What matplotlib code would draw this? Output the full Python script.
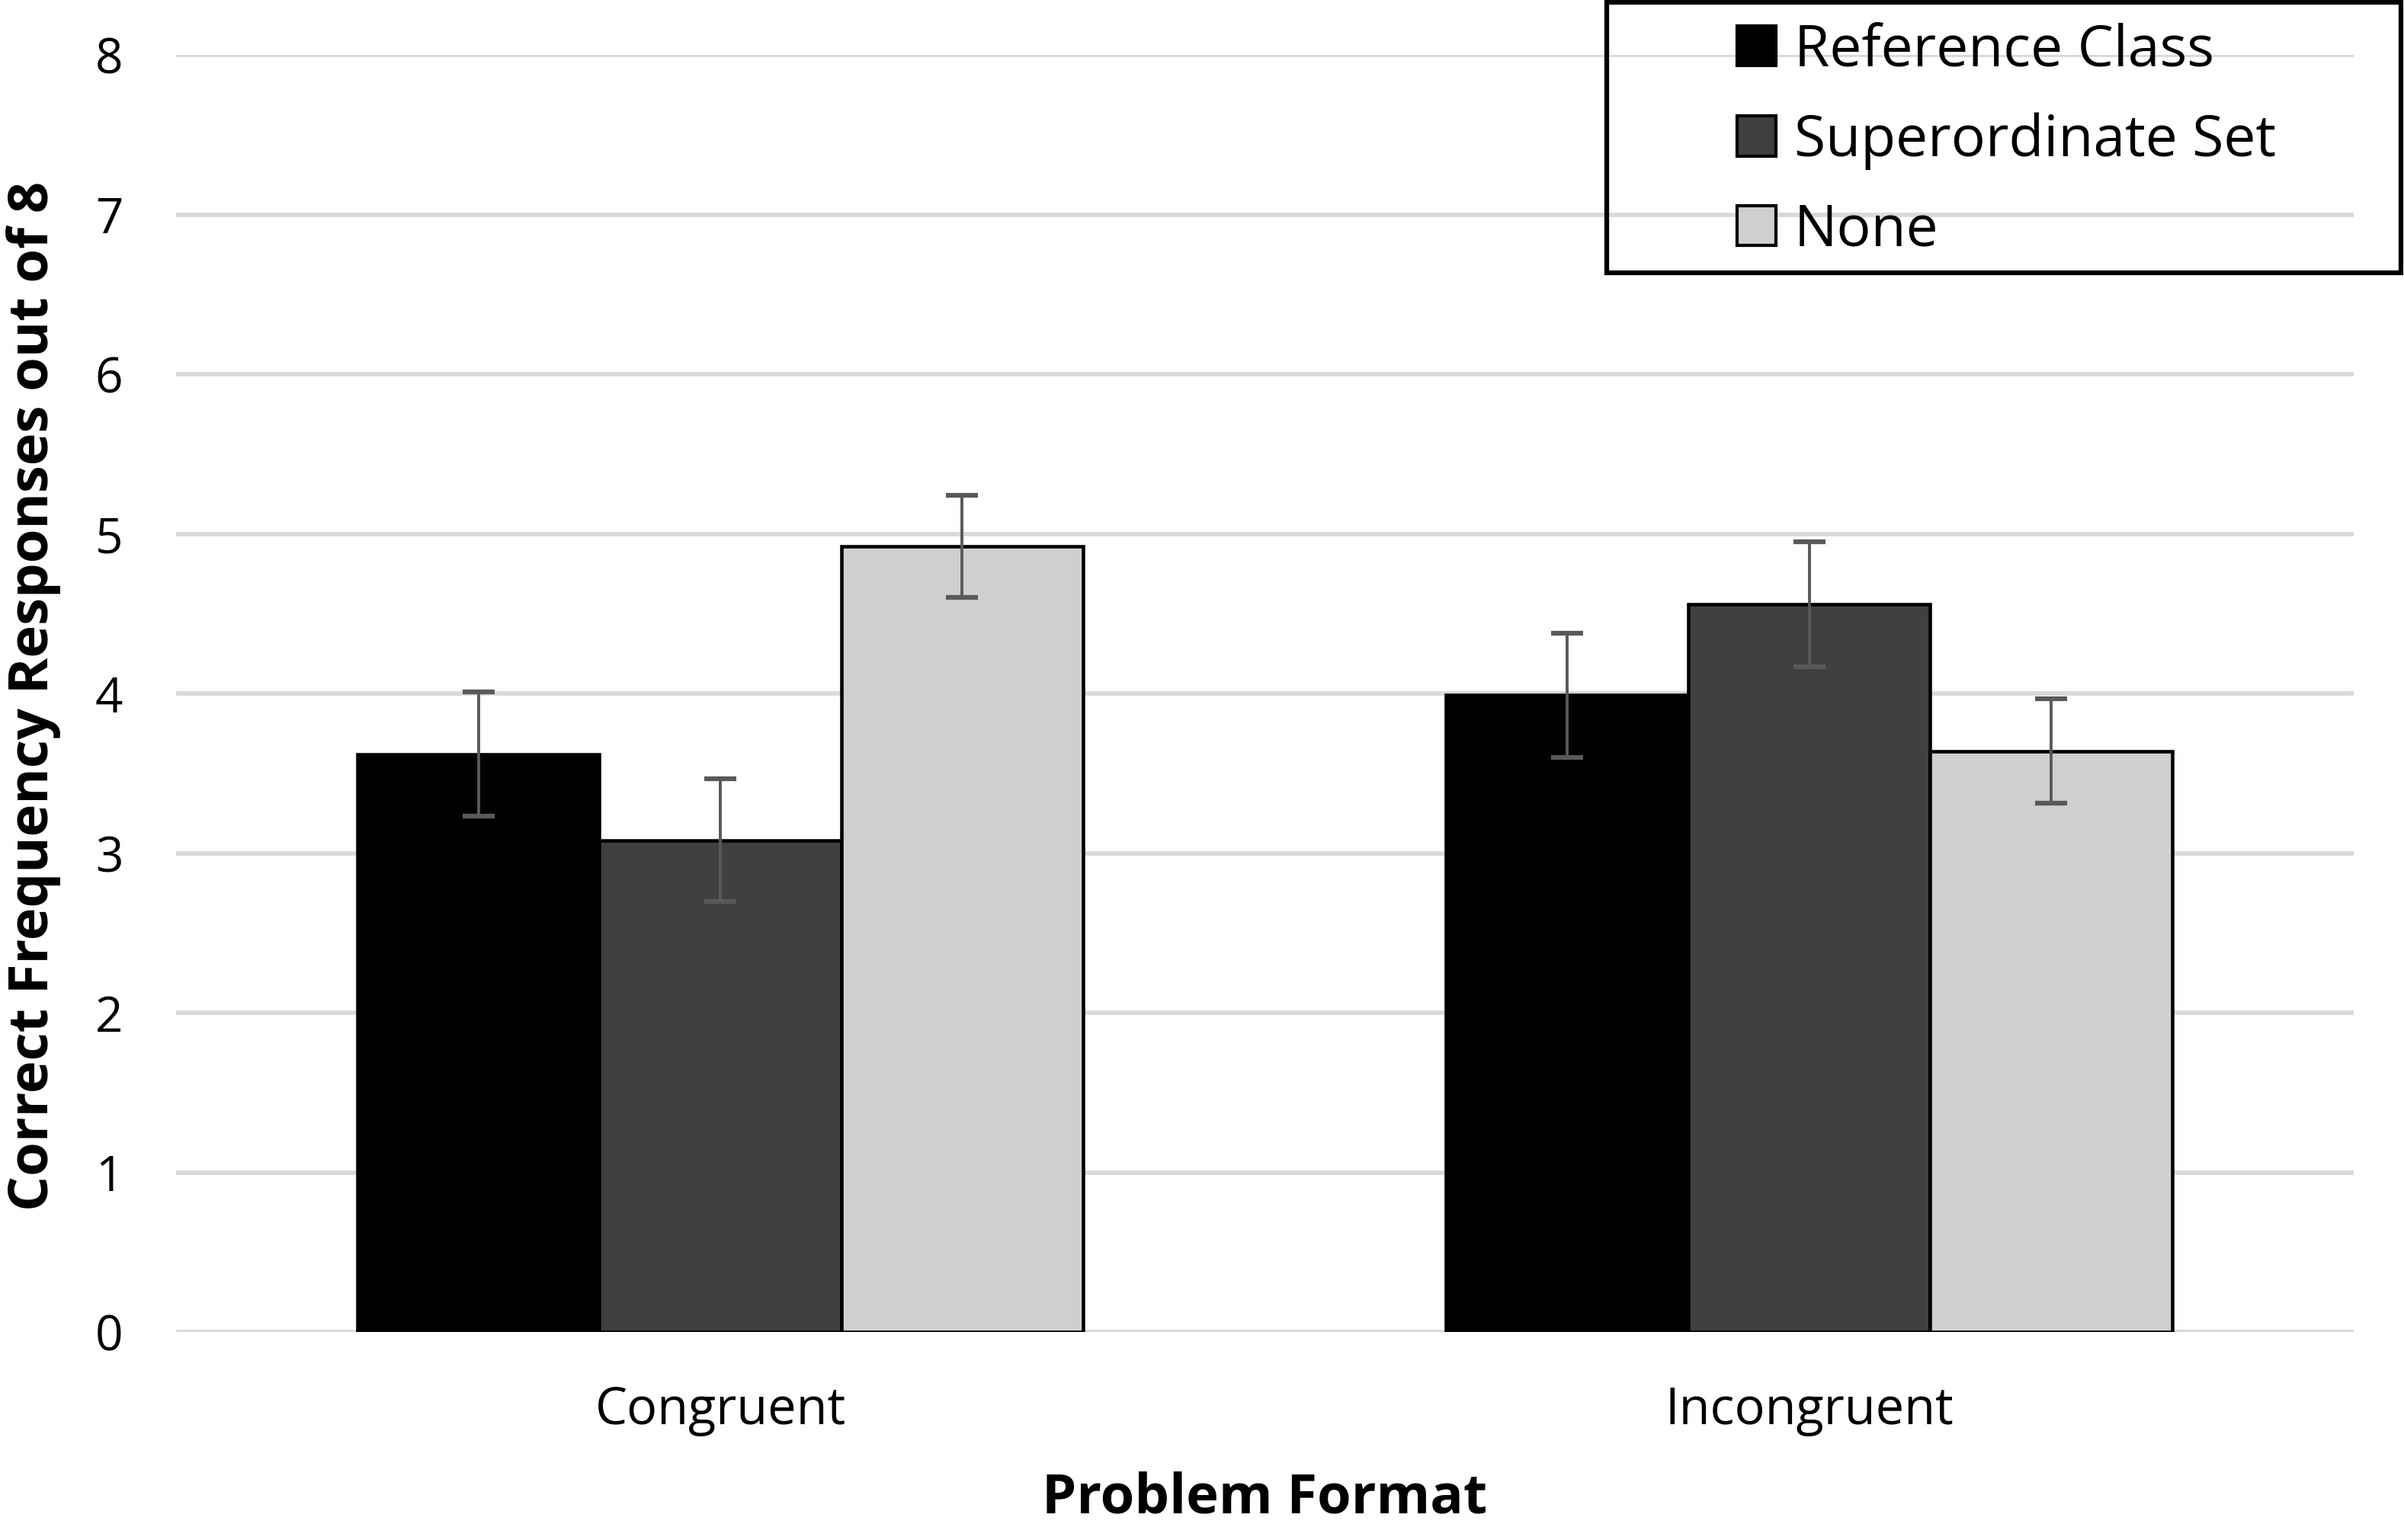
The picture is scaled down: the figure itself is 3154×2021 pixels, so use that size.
import numpy as np
import matplotlib
matplotlib.use('Agg')
import matplotlib.pyplot as plt
from matplotlib.patches import Rectangle, Patch

plt.rcParams['font.family'] = ['Open Sans', 'DejaVu Sans']

formats = ['Congruent', 'Incongruent']
conditions = ['Reference Class', 'Superordinate Set', 'None']
colors = ['#000000', '#404040', '#cfcfcf']

# mean correct responses and error bar half-widths, per condition
reference_class = [3.62, 3.99]
superordinate_set = [3.08, 4.56]
none_cond = [4.92, 3.64]
reference_err = [0.39, 0.39]
superordinate_err = [0.385, 0.39]
none_err = [0.32, 0.325]

means = [reference_class, superordinate_set, none_cond]
errs = [reference_err, superordinate_err, none_err]

fig = plt.figure(figsize=(31.54, 20.21), dpi=100)
ax = fig.add_axes([0.0732, 0.1351, 0.9058, 0.8291])

x = np.arange(len(formats))
width = 0.2222
for i, (vals, err) in enumerate(zip(means, errs)):
    pos = x + (i - 1) * width
    ax.bar(pos, vals, width, color=colors[i], edgecolor='black', linewidth=3.3, zorder=2)
    ax.errorbar(pos, vals, yerr=err, fmt='none', ecolor='#595959', elinewidth=2.8,
                capsize=15, capthick=4.5, zorder=3)

ax.set_xlim(-0.5, 1.5)
ax.set_ylim(0, 8)
ax.set_yticks(range(0, 9))
ax.set_xticks(x)
ax.set_xticklabels(formats)
ax.tick_params(axis='y', length=0, labelsize=46, pad=50)
ax.tick_params(axis='x', length=0, labelsize=48, pad=50)
ax.yaxis.grid(True, color='#d9d9d9', linewidth=4.2, zorder=0)
ax.set_axisbelow(True)
for s in ax.spines.values():
    s.set_visible(False)

fig.text(0.526, 0.027, 'Problem Format', ha='center', va='center',
         fontsize=52, fontweight='bold')
fig.text(0.014, 0.548, 'Correct Frequency Responses out of 8', ha='center', va='center',
         rotation=90, fontsize=52, fontweight='bold')

# legend with a separate frame like the Excel original
handles = [Patch(facecolor=c, edgecolor='black', linewidth=3) for c in colors]
fig.legend(handles, conditions, loc='upper left', bbox_to_anchor=(2279 / 3154, 0.9855),
           frameon=False, fontsize=54, borderpad=0, borderaxespad=0,
           handlelength=0.68, handleheight=0.7, handletextpad=0.32, labelspacing=0.57)
fig.patches.append(Rectangle((0.6684, 0.8229), 0.3304, 0.1756, transform=fig.transFigure,
                             fill=False, edgecolor='black', linewidth=4.5))

plt.savefig('out.png', dpi=100)
